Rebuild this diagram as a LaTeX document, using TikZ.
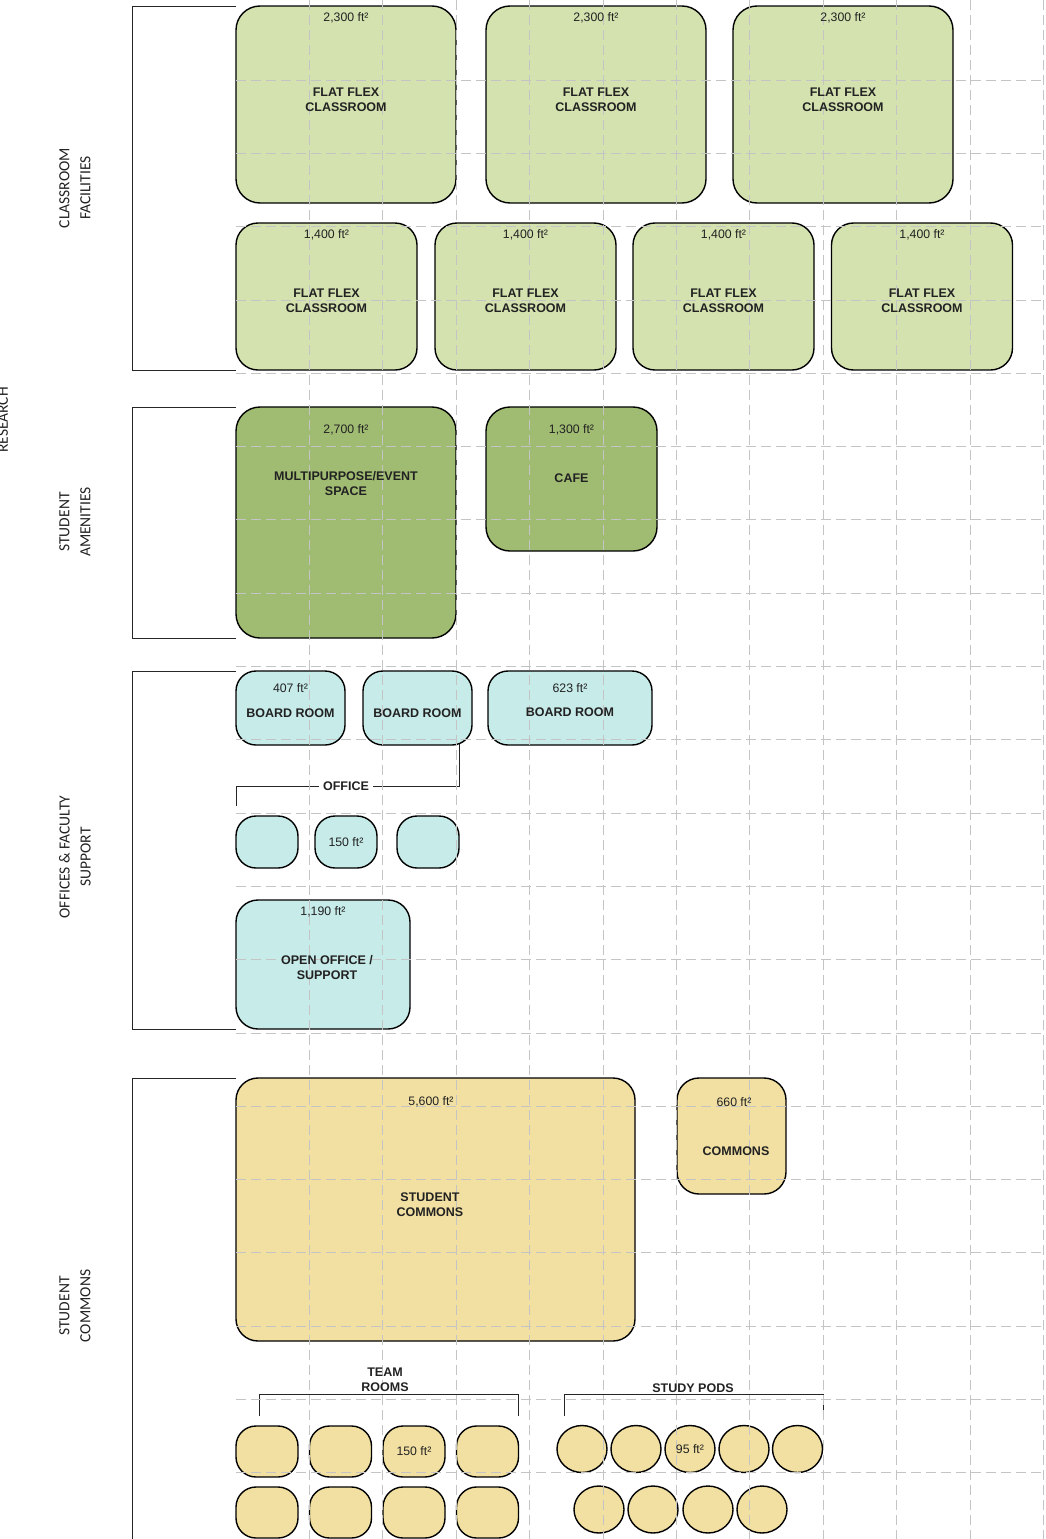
\documentclass[tikz,border=0pt]{standalone}
\usepackage{fontspec}
\setmainfont{Liberation Sans}
\newfontfamily\sidefont{Carlito}
\usetikzlibrary{positioning,shapes.geometric}

\definecolor{classgreen}{HTML}{D4E2AF}
\definecolor{amengreen}{HTML}{A0BB72}
\definecolor{officecyan}{HTML}{C6EBE9}
\definecolor{commonsand}{HTML}{F2E0A2}
\definecolor{gridgray}{HTML}{C4C4C4}
\definecolor{inkgray}{HTML}{222222}

\tikzset{
  room/.style={draw=black, line width=1.4pt, rounded corners=24pt, inner sep=0pt, outer sep=0pt},
  smallroom/.style={room, rounded corners=20pt},
  pod/.style={draw=black, line width=1.4pt, ellipse, inner sep=0pt, outer sep=0pt,
              minimum width=50pt, minimum height=47pt, fill=commonsand},
  areatext/.style={font=\fontsize{12.3}{14}\selectfont, text=inkgray},
  roomtext/.style={font=\fontsize{12.5}{15}\selectfont\bfseries, align=center, text=inkgray},
  sidetext/.style={font=\sidefont\fontsize{15.5}{21}\selectfont, rotate=90, align=center, text=inkgray},
  bracketline/.style={line width=0.9pt, draw=black!85},
  gridline/.style={draw=gridgray, line width=0.8pt, dash pattern=on 10pt off 5pt}
}

\begin{document}
\begin{tikzpicture}[x=1pt, y=-1pt]
    \useasboundingbox (0,0) rectangle (1046,1539);

    % side labels
    \node[sidetext, anchor=base] (research) at (8,420) {RESEARCH};
    \node[sidetext] (side_class) at (75,188) {CLASSROOM\\FACILITIES};
    \node[sidetext] (side_amen) at (75,522) {STUDENT\\AMENITIES};
    \node[sidetext] (side_office) at (75,857) {OFFICES \& FACULTY\\SUPPORT};
    \node[sidetext] (side_commons) at (75,1306) {STUDENT\\COMMONS};

    % Classroom facilities
    \foreach \i/\cx in {1/346, 2/596, 3/843} {
        \node[room, fill=classgreen, minimum width=220pt, minimum height=197pt] (cbig\i) at (\cx,104.5) {};
    }
    \foreach \i/\cx in {1/326.5, 2/525.5, 3/723.5, 4/922} {
        \node[room, rounded corners=22pt, fill=classgreen, minimum width=181pt, minimum height=147pt] (csml\i) at (\cx,296.5) {};
    }
    \draw[bracketline] (cbig1.north west) -- ++(-104,0) |- (csml1.south west);

    % Student amenities
    \node[room, fill=amengreen, minimum width=220pt, minimum height=231pt] (multi) at (346,522.5) {};
    \node[room, fill=amengreen, minimum width=171pt, minimum height=144pt] (cafe) at (571.5,479) {};
    \draw[bracketline] (multi.north west) -- ++(-104,0) |- (multi.south west);

    % Offices & faculty support
    \node[roomtext, fill=white, inner sep=4pt] (office_lbl) at (346,786) {OFFICE};
    \draw[bracketline] (236,806) |- (office_lbl.west);
    \draw[bracketline] (office_lbl.east) -| (459,742);
    \node[smallroom, fill=officecyan, minimum width=109pt, minimum height=74pt] (board1) at (290.5,708) {};
    \node[smallroom, fill=officecyan, minimum width=109pt, minimum height=74pt] (board2) at (417.5,708) {};
    \node[smallroom, fill=officecyan, minimum width=164pt, minimum height=74pt] (board3) at (570,708) {};
    \foreach \i/\cx in {1/267, 2/346, 3/428} {
        \node[smallroom, fill=officecyan, minimum width=62pt, minimum height=52pt] (office\i) at (\cx,842) {};
    }
    \node[room, rounded corners=22pt, fill=officecyan, minimum width=174pt, minimum height=129pt] (openoff) at (323,964.5) {};
    \draw[bracketline] (board1.north west) -- ++(-104,0) |- (openoff.south west);

    % Student commons
    \node[room, rounded corners=22pt, fill=commonsand, minimum width=399pt, minimum height=263pt] (stcommons) at (435.5,1209.5) {};
    \node[room, rounded corners=22pt, fill=commonsand, minimum width=109pt, minimum height=116pt] (commons) at (731.5,1136) {};
    \draw[bracketline] (stcommons.north west) -- ++(-104,0) -- ++(0,470);

    % team rooms and study pods
    \draw[bracketline] (259,1416) |- (518,1394) -- (518,1416);
    \foreach \i/\cx in {1/267, 2/340.5, 3/414, 4/487.5} {
        \node[smallroom, fill=commonsand, minimum width=62pt, minimum height=51pt] (teamA\i) at (\cx,1451.5) {};
        \node[smallroom, fill=commonsand, minimum width=62pt, minimum height=51pt] (teamB\i) at (\cx,1512.5) {};
    }
    \draw[bracketline] (564,1416) |- (823,1394) -- (823,1416);
    \foreach \i/\cx in {1/582, 2/636, 3/690, 4/744, 5/797.5} {
        \node[pod] (podA\i) at (\cx,1449) {};
    }
    \foreach \i/\cx in {1/599, 2/653, 3/708, 4/762} {
        \node[pod] (podB\i) at (\cx,1509.5) {};
    }

    % grid
    \foreach \k in {0,...,10} {
        \draw[gridline] ({309.3+73.4*\k},0) -- ++(0,1539);
    }
    \foreach \k in {1,...,20} {
        \draw[gridline] (236,{6.7+73.3*\k}) -- (1046,{6.7+73.3*\k});
    }

    % room texts
    \foreach \i in {1,2,3} {
        \node[areatext] (cbig\i_area) at ([yshift=-12pt]cbig\i.north) {2,300 ft²};
        \node[roomtext] (cbig\i_name) at ([yshift=5pt]cbig\i.center) {FLAT FLEX\\CLASSROOM};
    }
    \foreach \i in {1,...,4} {
        \node[areatext] (csml\i_area) at ([yshift=-12pt]csml\i.north) {1,400 ft²};
        \node[roomtext] (csml\i_name) at ([yshift=-4pt]csml\i.center) {FLAT FLEX\\CLASSROOM};
    }
    \node[areatext] (multi_area) at (346,430) {2,700 ft²};
    \node[roomtext] (multi_name) at (346,484) {MULTIPURPOSE/EVENT\\SPACE};
    \node[areatext] (cafe_area) at (571.5,430) {1,300 ft²};
    \node[roomtext] (cafe_name) at (571.5,478) {CAFE};
    \node[areatext] (board1_area) at (290.5,688) {407 ft²};
    \node[roomtext] (board1_name) at (290.5,713) {BOARD ROOM};
    \node[roomtext] (board2_name) at (417.5,713) {BOARD ROOM};
    \node[areatext] (board3_area) at (570,688) {623 ft²};
    \node[roomtext] (board3_name) at (570,712) {BOARD ROOM};
    \node[areatext] (office2_area) at (office2) {150 ft²};
    \node[areatext] (openoff_area) at (323,912) {1,190 ft²};
    \node[roomtext] (openoff_name) at (327,967.5) {OPEN OFFICE /\\SUPPORT};
    \node[areatext] (stcommons_area) at (431,1102) {5,600 ft²};
    \node[roomtext] (stcommons_name) at (430,1204.5) {STUDENT\\COMMONS};
    \node[areatext] (commons_area) at (734,1102) {660 ft²};
    \node[roomtext] (commons_name) at (736,1151) {COMMONS};
    \node[roomtext] (team_lbl) at (385,1380) {TEAM\\ROOMS};
    \node[areatext] (teamA3_area) at (teamA3) {150 ft²};
    \node[roomtext] (pods_lbl) at (693,1388) {STUDY PODS};
    \node[areatext] (podA3_area) at (podA3) {95 ft²};
\end{tikzpicture}
\end{document}
